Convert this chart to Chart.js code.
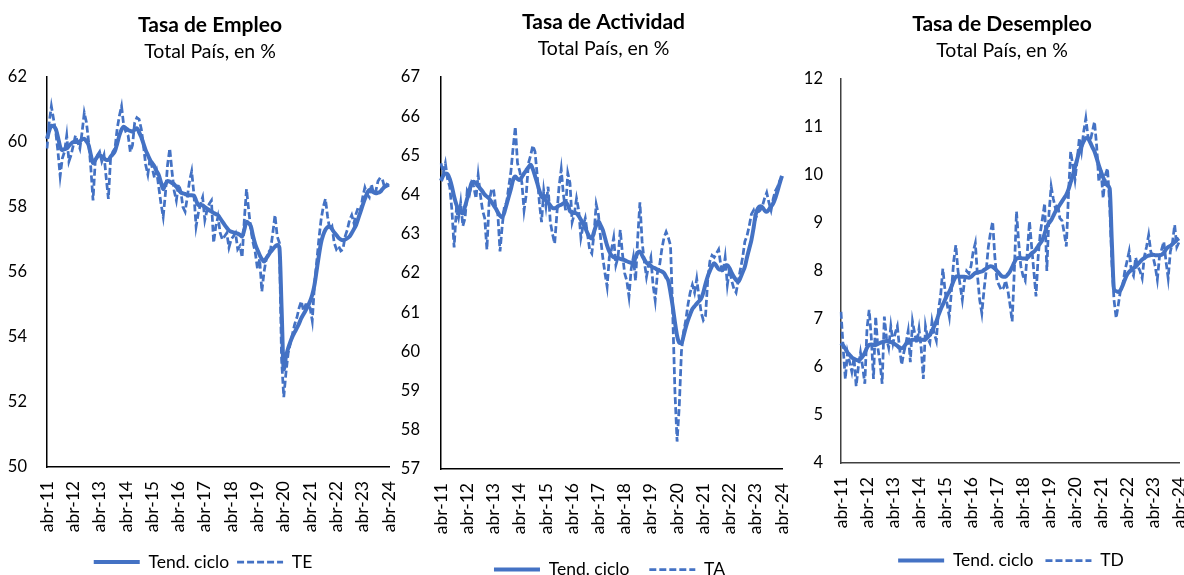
<!DOCTYPE html>
<html>
<head>
<meta charset="utf-8">
<script src="https://cdn.jsdelivr.net/npm/chart.js@4.4.1/dist/chart.umd.min.js"></script>
<style>
html, body { margin: 0; padding: 0; background: #fff; overflow: hidden; }
.panel { position: absolute; top: 0; height: 575px; }
</style>
</head>
<body>
<div class="panel" style="left:0;width:395px"><canvas id="empleoChart"></canvas></div>
<div class="panel" style="left:395px;width:395px"><canvas id="actividadChart"></canvas></div>
<div class="panel" style="left:790px;width:394px"><canvas id="desempleoChart"></canvas></div>
<script>
// ---------- Data (monthly, abr-11 .. abr-24) ----------

const meses = ["ene", "feb", "mar", "abr", "may", "jun", "jul", "ago", "sep", "oct", "nov", "dic"];

const tickLabels = ["abr-11", "abr-12", "abr-13", "abr-14", "abr-15", "abr-16", "abr-17",
    "abr-18", "abr-19", "abr-20", "abr-21", "abr-22", "abr-23", "abr-24"];

const categories = [];
for (let y = 11; y <= 24; y++) {
    for (let m = 0; m < 12; m++) {
        if ((y === 11 && m < 3) || (y === 24 && m > 3)) continue;
        categories.push(meses[m] + "-" + y);
    }
}

const empleoTend = [
    60.10, 60.35, 60.50, 60.48, 60.40, 60.15, 59.85, 59.75, 59.78, 59.80, 59.88, 59.95,
    60.00, 60.00, 60.00, 60.02, 60.08, 60.10, 60.02, 59.90, 59.60, 59.35, 59.45, 59.55,
    59.60, 59.55, 59.50, 59.45, 59.45, 59.55, 59.62, 59.72, 59.95, 60.20, 60.38, 60.47,
    60.42, 60.37, 60.34, 60.32, 60.38, 60.42, 60.30, 60.15, 59.95, 59.75, 59.60, 59.45,
    59.35, 59.25, 59.10, 58.98, 58.75, 58.55, 58.70, 58.80, 58.78, 58.74, 58.70, 58.62,
    58.53, 58.45, 58.42, 58.40, 58.37, 58.36, 58.36, 58.35, 58.20, 58.06, 58.06, 58.05,
    58.00, 57.95, 57.90, 57.86, 57.82, 57.78, 57.75, 57.65, 57.55, 57.45, 57.36, 57.28,
    57.24, 57.22, 57.20, 57.18, 57.14, 57.09, 57.30, 57.55, 57.50, 57.40, 57.10, 56.85,
    56.68, 56.52, 56.40, 56.32, 56.42, 56.52, 56.62, 56.70, 56.78, 56.83, 56.75, 54.90,
    53.00, 53.40, 53.65, 53.85, 54.02, 54.15, 54.28, 54.42, 54.58, 54.70, 54.82, 54.95,
    55.10, 55.30, 55.60, 56.05, 56.50, 56.90, 57.14, 57.30, 57.38, 57.40, 57.32, 57.22,
    57.14, 57.05, 57.00, 56.98, 57.00, 57.04, 57.09, 57.20, 57.32, 57.45, 57.65, 57.85,
    58.06, 58.25, 58.42, 58.52, 58.50, 58.45, 58.42, 58.44, 58.47, 58.55, 58.62, 58.66,
    58.68
];

const empleoTE = [
    59.80, 60.60, 61.10, 60.70, 60.30, 59.70, 58.95, 59.50, 59.70, 60.20, 59.40, 59.60,
    59.90, 60.20, 60.00, 59.80, 60.30, 60.90, 60.60, 60.00, 59.20, 58.20, 59.40, 59.60,
    59.70, 59.40, 59.60, 58.90, 58.25, 59.50, 59.70, 59.80, 60.40, 60.80, 61.10, 60.50,
    60.30, 60.20, 59.70, 59.90, 60.60, 60.75, 60.70, 60.40, 59.90, 59.30, 59.00, 59.50,
    59.20, 58.90, 59.10, 58.60, 58.10, 57.70, 58.40, 59.30, 59.80, 59.10, 58.50, 58.20,
    58.70, 58.50, 58.00, 57.86, 58.30, 58.80, 59.10, 58.40, 57.40, 57.80, 58.10, 58.30,
    57.60, 57.90, 58.10, 58.20, 56.90, 57.40, 57.70, 57.20, 57.00, 57.10, 57.20, 56.75,
    57.00, 57.10, 57.20, 56.70, 56.80, 56.45, 57.60, 58.55, 57.90, 57.30, 56.90, 56.60,
    56.10, 56.40, 55.40, 56.00, 56.40, 56.60, 56.70, 57.20, 57.75, 57.10, 56.90, 53.30,
    52.15, 52.90, 53.50, 53.80, 54.10, 54.40, 54.60, 54.90, 55.10, 54.80, 55.00, 55.00,
    54.90, 54.50, 55.60, 56.30, 57.00, 57.60, 58.00, 58.25, 57.70, 57.30, 57.40, 56.90,
    56.70, 56.80, 56.65, 56.70, 57.10, 57.30, 57.60, 57.75, 57.50, 57.80, 58.00, 57.90,
    58.30, 58.60, 58.40, 58.30, 58.70, 58.40, 58.50, 58.80, 58.90, 58.85, 58.60, 58.70,
    58.65
];

const actividadTend = [
    64.35, 64.48, 64.54, 64.52, 64.40, 64.20, 63.95, 63.75, 63.62, 63.55, 63.52, 63.70,
    63.90, 64.10, 64.30, 64.33, 64.28, 64.22, 64.15, 64.08, 64.00, 63.95, 63.90, 63.82,
    63.74, 63.65, 63.55, 63.46, 63.42, 63.55, 63.75, 63.95, 64.15, 64.38, 64.46, 64.40,
    64.37, 64.45, 64.54, 64.62, 64.70, 64.76, 64.65, 64.48, 64.30, 64.10, 63.95, 63.90,
    63.85, 63.80, 63.72, 63.66, 63.65, 63.68, 63.72, 63.74, 63.78, 63.80, 63.74, 63.58,
    63.55, 63.53, 63.52, 63.45, 63.36, 63.25, 63.15, 63.02, 62.92, 62.88, 63.05, 63.22,
    63.32, 63.22, 63.10, 62.90, 62.70, 62.55, 62.45, 62.40, 62.38, 62.38, 62.36, 62.34,
    62.33, 62.30, 62.28, 62.26, 62.25, 62.40, 62.52, 62.55, 62.45, 62.35, 62.26, 62.22,
    62.18, 62.14, 62.12, 62.08, 62.06, 62.04, 62.00, 61.90, 61.80, 61.50, 61.15, 60.75,
    60.40, 60.22, 60.21, 60.40, 60.62, 60.80, 60.95, 61.08, 61.15, 61.22, 61.28, 61.35,
    61.50, 61.72, 61.91, 62.05, 62.18, 62.25, 62.18, 62.10, 62.08, 62.12, 62.18, 62.20,
    62.12, 62.00, 61.90, 61.82, 61.78, 61.88, 62.02, 62.16, 62.40, 62.62, 62.84, 63.15,
    63.50, 63.65, 63.70, 63.68, 63.60, 63.56, 63.62, 63.70, 63.78, 63.92, 64.10, 64.30,
    64.48
];

const actividadTA = [
    64.80, 64.55, 64.80, 64.40, 64.20, 63.60, 62.65, 63.60, 63.40, 63.80, 63.20, 63.40,
    64.10, 64.00, 64.30, 64.20, 63.90, 64.50, 64.00, 63.60, 63.40, 62.60, 63.80, 64.10,
    64.15, 63.70, 63.50, 62.55, 63.20, 63.70, 63.80, 64.20, 64.60, 65.20, 65.73, 64.80,
    64.60, 64.30, 63.60, 64.00, 64.80, 65.00, 65.25, 65.10, 64.50, 63.80, 63.30, 64.10,
    63.70, 64.20, 63.30, 63.00, 62.75, 63.50, 64.20, 64.65, 64.00, 63.60, 64.55, 64.30,
    63.30, 63.50, 63.90, 63.60, 62.90, 63.20, 63.40, 63.00, 62.60, 62.50, 63.00, 63.75,
    63.50, 62.90, 62.40, 62.00, 61.65, 62.40, 62.60, 62.90, 62.20, 62.40, 63.10, 62.50,
    62.00, 61.80, 61.40, 62.10, 62.40, 61.80, 62.90, 63.80, 62.80, 62.30, 61.90, 62.20,
    62.40, 61.70, 61.30, 62.00, 62.20, 62.60, 62.90, 63.05, 62.90, 62.70, 61.00, 59.00,
    57.70, 58.60, 60.00, 60.50, 60.80, 61.20, 61.50, 61.70, 61.50, 61.85, 61.40, 61.00,
    60.80, 60.90, 61.80, 62.30, 62.45, 62.40, 62.50, 62.60, 62.20, 62.00, 62.40, 61.70,
    62.10, 61.80, 61.60, 61.50, 61.80, 62.10, 62.40, 62.80, 62.95, 63.20, 63.50, 63.60,
    63.40, 63.55, 63.60, 63.70, 63.90, 64.05, 63.80, 63.60, 63.90, 64.10, 64.20, 64.35,
    64.45
];

const desempleoTend = [
    6.50, 6.45, 6.38, 6.30, 6.25, 6.20, 6.17, 6.15, 6.14, 6.17, 6.22, 6.30,
    6.40, 6.46, 6.47, 6.46, 6.46, 6.48, 6.50, 6.52, 6.53, 6.54, 6.53, 6.52,
    6.50, 6.47, 6.44, 6.40, 6.39, 6.42, 6.48, 6.52, 6.55, 6.57, 6.57, 6.57,
    6.57, 6.57, 6.57, 6.58, 6.62, 6.67, 6.75, 6.85, 6.95, 7.08, 7.20, 7.30,
    7.40, 7.50, 7.57, 7.68, 7.80, 7.88, 7.89, 7.88, 7.88, 7.88, 7.87, 7.86,
    7.88, 7.92, 7.96, 7.97, 7.98, 7.99, 8.02, 8.05, 8.08, 8.10, 8.09, 8.05,
    8.00, 7.95, 7.90, 7.88, 7.88, 7.93, 7.99, 8.08, 8.18, 8.26, 8.27, 8.27,
    8.26, 8.26, 8.27, 8.32, 8.37, 8.40, 8.45, 8.52, 8.58, 8.65, 8.78, 8.92,
    9.00, 9.06, 9.15, 9.24, 9.31, 9.38, 9.45, 9.52, 9.59, 9.70, 9.85, 10.00,
    10.16, 10.33, 10.49, 10.60, 10.70, 10.77, 10.76, 10.68, 10.58, 10.49, 10.35, 10.20,
    10.07, 9.95, 9.85, 9.78, 9.72, 8.60, 7.62, 7.58, 7.56, 7.60, 7.70, 7.82,
    7.92, 7.98, 8.02, 8.06, 8.09, 8.14, 8.19, 8.24, 8.27, 8.30, 8.32, 8.33,
    8.34, 8.33, 8.33, 8.33, 8.34, 8.38, 8.45, 8.50, 8.52, 8.56, 8.60, 8.65,
    8.68
];

const desempleoTD = [
    7.15, 6.40, 5.75, 6.30, 6.10, 5.90, 6.20, 5.60, 6.00, 6.30, 6.00, 5.65,
    6.80, 7.19, 6.60, 5.75, 7.05, 6.40, 6.10, 5.65, 7.05, 6.60, 6.40, 6.85,
    6.50, 6.70, 6.85, 6.40, 6.05, 6.30, 6.50, 6.75, 6.10, 6.95, 6.70, 6.50,
    6.80, 6.40, 5.75, 6.85, 6.60, 6.50, 6.95, 6.70, 6.55, 7.20, 7.50, 8.05,
    7.60, 7.30, 7.05, 7.60, 8.20, 8.54, 8.00, 7.70, 7.40, 7.80, 8.00, 7.95,
    8.10, 8.40, 8.58, 7.90, 7.40, 7.12, 7.60, 8.00, 8.50, 8.80, 9.03, 8.30,
    7.80, 7.70, 7.60, 7.65, 7.80, 7.60, 7.30, 6.95, 8.00, 9.24, 8.60, 8.10,
    7.90, 7.80, 8.40, 9.03, 8.50, 8.00, 7.47, 8.30, 8.80, 9.10, 9.41, 8.00,
    9.20, 9.76, 9.50, 9.30, 9.40, 9.10, 9.05, 8.80, 8.51, 9.60, 10.49, 10.20,
    9.90, 10.30, 10.77, 10.50, 10.90, 11.18, 10.80, 10.70, 10.90, 11.11, 10.60, 9.86,
    10.10, 9.52, 10.00, 10.14, 9.38, 8.20, 7.40, 7.02, 7.30, 7.60, 7.70, 8.00,
    8.20, 8.41, 8.00, 7.90, 8.28, 8.10, 8.00, 7.85, 8.30, 8.50, 8.75, 8.40,
    8.30, 8.10, 7.82, 8.30, 8.45, 8.61, 8.20, 7.85, 8.40, 8.60, 8.96, 8.50,
    8.60
];

// ---------- Charts ----------

const azul = "#4472C4";
const fuente = "Lato, 'Liberation Sans', sans-serif";

// legend with the dataset's own line width and dash
function legendLabels(chart) {
    return Chart.defaults.plugins.legend.labels.generateLabels(chart).map((item) => {
        const ds = chart.data.datasets[item.datasetIndex];
        item.lineDash = ds.borderDash || [];
        item.lineWidth = ds.borderWidth;
        return item;
    });
}

function createChart(canvasId, p) {

    return new Chart(document.getElementById(canvasId), {

        type: "line",

        data: {
            labels: categories,
            datasets: [{
                label: "Tend. ciclo",
                data: p.trend,
                borderColor: azul,
                backgroundColor: azul,
                borderWidth: 4,
                pointRadius: 0,
                cubicInterpolationMode: "monotone",
                order: 1
            }, {
                label: p.rawLabel,
                data: p.raw,
                borderColor: azul,
                backgroundColor: azul,
                borderWidth: 2.75,
                borderDash: [7, 3],
                pointRadius: 0,
                tension: 0,
                order: 0
            }]
        },

        options: {
            responsive: true,
            maintainAspectRatio: false,
            animation: false,
            events: [],
            layout: {
                padding: { left: 0, right: p.padRightLayout, top: 0, bottom: p.padBottom }
            },
            plugins: {
                title: {
                    display: true,
                    text: p.title,
                    color: "#000",
                    font: { family: fuente, size: 21, weight: "bold" },
                    padding: { top: p.titleTop, bottom: 0 }
                },
                subtitle: {
                    display: true,
                    text: "Total País, en %",
                    color: "#000",
                    font: { family: fuente, size: 19.5 },
                    padding: { top: p.subTop, bottom: p.subBottom }
                },
                legend: {
                    position: "bottom",
                    labels: {
                        usePointStyle: true,
                        pointStyle: "line",
                        pointStyleWidth: 46,
                        padding: p.legendPad,
                        color: "#000",
                        font: { family: fuente, size: 17.5 },
                        generateLabels: legendLabels,
                        sort: (a, b) => a.datasetIndex - b.datasetIndex
                    }
                },
                tooltip: { enabled: false }
            },
            scales: {
                x: {
                    grid: { display: false, drawTicks: false },
                    border: { color: p.axisColor, width: 1.5 },
                    ticks: {
                        autoSkip: false,
                        minRotation: 90,
                        maxRotation: 90,
                        padding: 14,
                        color: "#000",
                        font: { family: fuente, size: 17.5 },
                        callback: (v, i) => (i % 12 === 0 ? tickLabels[i / 12] : null)
                    },
                    afterFit: (s) => {
                        s.height = p.xHeight;
                        s.paddingLeft = 0;
                        s.paddingRight = p.padRight;
                    }
                },
                y: {
                    min: p.min,
                    max: p.max,
                    grid: { display: false, drawTicks: false },
                    border: { color: p.axisColor, width: 1.5 },
                    ticks: {
                        stepSize: p.step,
                        padding: p.yPad,
                        color: "#000",
                        font: { family: fuente, size: 16.5 }
                    },
                    afterFit: (s) => { s.width = p.yWidth; }
                }
            }
        },

        plugins: [{
            // nudge the legend sideways to where the original sits
            id: "legendShift",
            afterUpdate(chart) {
                chart.legend.left += p.legendDx;
                chart.legend.right += p.legendDx;
            }
        }]

    });

}

createChart("empleoChart", {
    title: "Tasa de Empleo", rawLabel: "TE", trend: empleoTend, raw: empleoTE,
    min: 50, max: 62, step: 2, yPad: 20, axisColor: "#000",
    yWidth: 47, padRight: 6, padRightLayout: -25,
    titleTop: 12.9, subTop: 1.7, subBottom: 13.8,
    legendPad: 8, padBottom: -5.75, xHeight: 78.25, legendDx: -7
});

createChart("actividadChart", {
    title: "Tasa de Actividad", rawLabel: "TA", trend: actividadTend, raw: actividadTA,
    min: 57, max: 67, step: 1, yPad: 21, axisColor: "#000",
    yWidth: 46, padRight: 8, padRightLayout: -22,
    titleTop: 9.9, subTop: 2.2, subBottom: 16.3,
    legendPad: 20, padBottom: -13.25, xHeight: 71.75, legendDx: 6
});

createChart("desempleoChart", {
    title: "Tasa de Desempleo", rawLabel: "TD", trend: desempleoTend, raw: desempleoTD,
    min: 4, max: 12, step: 1, yPad: 18, axisColor: "#404040",
    yWidth: 51, padRight: 5, padRightLayout: -30,
    titleTop: 11.4, subTop: 2.2, subBottom: 16.8,
    legendPad: 12, padBottom: -4.25, xHeight: 76.75, legendDx: 9
});
</script>
</body>
</html>
